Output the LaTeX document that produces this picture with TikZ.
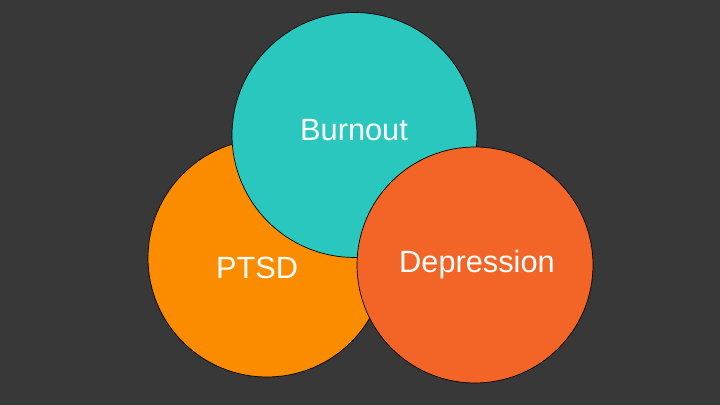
\documentclass[tikz,border=0pt]{standalone}
\usepackage{fontspec}
\setmainfont{Liberation Sans}
\usepackage{tikz}
\definecolor{bgdark}{HTML}{383838}
\definecolor{ptsdorange}{HTML}{FB8C00}
\definecolor{burnteal}{HTML}{2AC7BE}
\definecolor{deprred}{HTML}{F26526}
\tikzset{
  blob/.style={draw=black, line width=0.4pt},
  lbl/.style={text=white, font=\fontsize{17.5}{20}\selectfont, inner sep=0pt}
}

\begin{document}
\begin{tikzpicture}[x=0.02cm, y=0.02cm]
% background
\fill[bgdark] (0,0) rectangle (720,405);

% circles, back to front
\draw[blob, fill=ptsdorange] (267,147) circle (2.38cm);
\draw[blob, fill=burnteal] (354.5,270) circle (2.45cm);
\draw[blob, fill=deprred] (475,140) circle (2.36cm);

% labels
\node[lbl] (burnout) at (354,275) {Burnout};
\node[lbl] (ptsd) at (257,137) {PTSD};
\node[lbl] (depression) at (477,140) {Depression};
\end{tikzpicture}
\end{document}
